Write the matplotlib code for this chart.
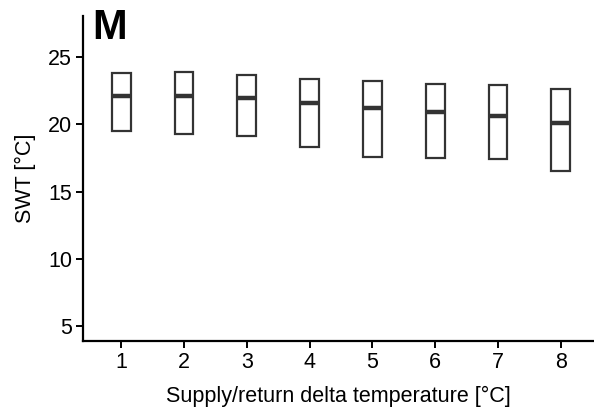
import matplotlib
matplotlib.use("Agg")
import matplotlib.pyplot as plt

plt.rcParams['font.family'] = ['Liberation Sans', 'DejaVu Sans']

# SWT spread per supply/return delta
delta = [1, 2, 3, 4, 5, 6, 7, 8]
q_low = [19.5, 19.3, 19.1, 18.3, 17.6, 17.5, 17.4, 16.55]
q_med = [22.1, 22.1, 21.95, 21.6, 21.2, 20.9, 20.6, 20.1]
q_high = [23.8, 23.9, 23.7, 23.4, 23.2, 23.0, 22.9, 22.65]

fig = plt.figure(figsize=(5.94, 4.13), dpi=100)
ax = fig.add_axes([83 / 594, 1 - 341 / 413, 511 / 594, 325 / 413])

box_w = 0.3
edge = '#333333'
for x, lo, md, hi in zip(delta, q_low, q_med, q_high):
    ax.add_patch(plt.Rectangle((x - box_w / 2, lo), box_w, hi - lo,
                               facecolor='white', edgecolor=edge, lw=1.6, zorder=2))
    ax.plot([x - box_w / 2, x + box_w / 2], [md, md], color=edge, lw=3.2,
            solid_capstyle='butt', zorder=3)

ax.set_xlim(0.39, 8.53)
ax.set_ylim(3.9, 28.05)
ax.set_xticks(delta)
ax.set_yticks([5, 10, 15, 20, 25])

for side in ['top', 'right']:
    ax.spines[side].set_visible(False)
for side in ['left', 'bottom']:
    ax.spines[side].set_linewidth(1.6)
    ax.spines[side].set_color('black')

ax.tick_params(length=5, width=1.4, labelsize=15.5, colors='black', pad=3)
ax.set_xlabel('Supply/return delta temperature [°C]', fontsize=15.5, labelpad=9.5)
ax.set_ylabel('SWT [°C]', fontsize=15.5, labelpad=8.5)

fig.text(92 / 594, 1 - 39 / 413, 'M', fontsize=30, fontweight='bold', ha='left', va='baseline')

fig.savefig('out.png', dpi=100)
